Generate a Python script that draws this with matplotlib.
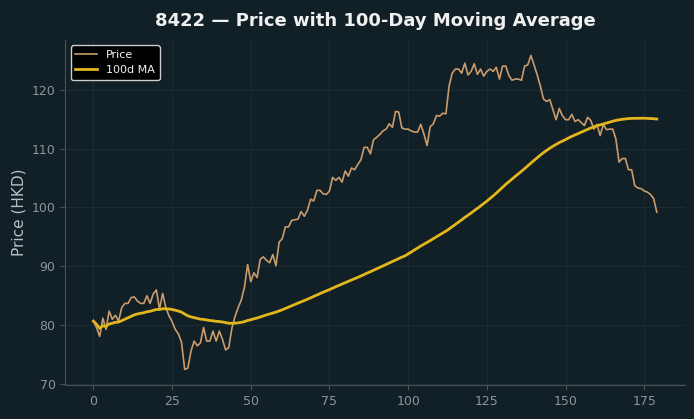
import numpy as np
import pandas as pd
import matplotlib
matplotlib.use("Agg")
import matplotlib.pyplot as plt

# daily closing prices (day 0..179)
precos = [
    80.7, 79.6, 78.1, 81.2, 79.3, 82.4, 81.0, 81.7, 80.7, 83.0,
    83.7, 83.7, 84.7, 84.8, 84.1, 83.7, 83.7, 85.0, 83.7, 85.3,
    86.0, 82.7, 85.4, 83.0, 81.6, 80.6, 79.3, 78.5, 77.1, 72.5,
    72.7, 75.6, 77.3, 76.5, 77.0, 79.6, 77.3, 77.3, 79.0, 77.3,
    79.0, 77.6, 75.8, 76.2, 79.5, 81.5, 83.0, 84.3, 86.5, 90.3,
    87.4, 88.9, 88.1, 91.2, 91.6, 91.0, 90.6, 92.0, 90.1, 94.1,
    94.7, 96.7, 96.7, 97.8, 97.9, 98.0, 99.3, 98.5, 99.5, 101.4,
    101.1, 102.9, 102.9, 102.3, 102.2, 102.8, 105.1, 104.6, 105.1, 104.3,
    106.2, 105.3, 106.7, 106.4, 107.3, 108.1, 110.2, 110.2, 109.1, 111.5,
    111.9, 112.4, 113.0, 113.3, 114.2, 113.6, 116.3, 116.2, 113.5, 113.3,
    113.3, 113.0, 112.8, 112.8, 114.1, 112.5, 110.5, 113.7, 114.2, 115.6,
    115.5, 116.0, 115.9, 120.6, 122.8, 123.5, 123.5, 122.8, 124.5, 122.5,
    123.1, 124.4, 122.6, 123.5, 122.3, 123.1, 123.5, 123.1, 123.8, 121.8,
    124.0, 124.0, 122.4, 121.6, 121.8, 121.8, 121.6, 124.0, 124.2, 125.8,
    124.2, 122.5, 120.6, 118.4, 118.0, 118.3, 116.6, 114.9, 116.8, 115.6,
    114.9, 114.9, 115.8, 114.6, 114.9, 114.4, 113.9, 115.3, 114.8, 113.3,
    114.1, 112.2, 114.1, 113.2, 113.3, 113.3, 111.6, 107.7, 108.3, 108.3,
    106.4, 106.4, 103.7, 103.3, 103.2, 102.8, 102.6, 102.2, 101.5, 99.2,
]
dias = np.arange(len(precos))

serie = pd.Series(precos, index=dias)
media_movel = serie.rolling(100, min_periods=1).mean()

fundo = "#111f26"
cor_preco = "#c99c6c"
cor_media = "#e3b71c"
cor_texto = "#8c959a"

fig = plt.figure(figsize=(6.94, 4.19), dpi=100, facecolor=fundo)
ax = fig.add_axes([0.094, 0.081, 0.893, 0.824], facecolor=fundo)

ax.plot(dias, serie.values, color=cor_preco, linewidth=1.2, label="Price")
ax.plot(dias, media_movel.values, color=cor_media, linewidth=2.0, label="100d MA")

ax.set_title("8422 — Price with 100-Day Moving Average", color="#f0f0f0",
             fontsize=13, fontweight="bold", pad=10)
ax.set_ylabel("Price (HKD)", color="#b8bec2", fontsize=11)

ax.grid(True, color="#1c2b32", linewidth=0.8)
ax.set_axisbelow(True)
for lado in ["top", "right"]:
    ax.spines[lado].set_visible(False)
for lado in ["left", "bottom"]:
    ax.spines[lado].set_color("#4a5257")
ax.tick_params(colors=cor_texto, labelcolor=cor_texto, labelsize=9)
ax.tick_params(axis="both", color="#4a5257")

leg = ax.legend(loc="upper left", fontsize=8, facecolor="#000000",
                edgecolor="#cccccc", framealpha=1.0)
for t in leg.get_texts():
    t.set_color("#f0f0f0")

fig.savefig("out.png", dpi=100, facecolor=fundo)
